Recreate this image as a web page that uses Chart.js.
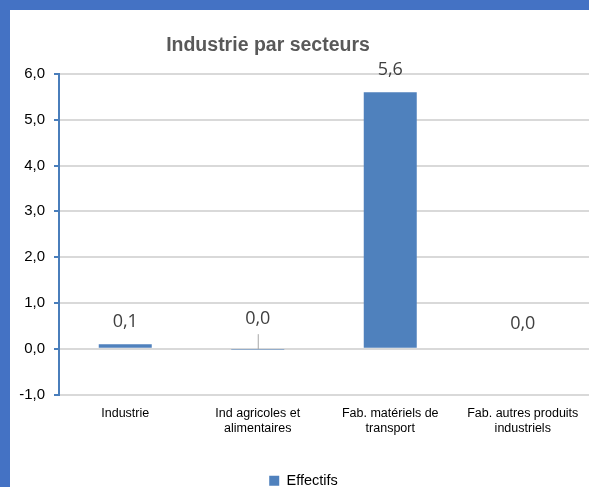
<!DOCTYPE html>
<html lang="fr">
<head>
<meta charset="utf-8">
<title>Industrie par secteurs</title>
<script src="https://cdn.jsdelivr.net/npm/chart.js@4.4.0/dist/chart.umd.min.js"></script>
<style>
    html, body { margin: 0; padding: 0; }
    body { width: 589px; height: 487px; background: #4472c4; position: relative; overflow: hidden; }
    .frame { position: absolute; left: 10px; top: 10px; width: 579px; height: 488px; background: #fff; }
</style>
</head>
<body>
<div class="frame"><canvas id="sectorChart"></canvas></div>
<script>
// Effectifs par secteur de l'industrie
const categories = [
    'Industrie',
    ['Ind agricoles et', 'alimentaires'],
    ['Fab. matériels de', 'transport'],
    ['Fab. autres produits', 'industriels']
];
const effectifs = [0.1, -0.01, 5.6, 0.02];
const yTicks = [-1, 0, 1, 2, 3, 4, 5, 6];

const fmt = v => (Math.round(v * 10) / 10).toFixed(1).replace('.', ',');

// Title drawn by hand so it can sit where we want it
const titlePlugin = {
    id: 'manualTitle',
    afterDraw(chart, args, opts) {
        const ctx = chart.ctx;
        ctx.save();
        ctx.font = 'bold 19.5px "Liberation Sans", Arial, sans-serif';
        ctx.fillStyle = '#595959';
        ctx.textAlign = 'center';
        ctx.textBaseline = 'middle';
        ctx.fillText(opts.text, opts.x, opts.y);
        ctx.restore();
    }
};

// Value labels above each bar, with a leader line when the label was pushed up
const valueLabels = {
    id: 'valueLabels',
    afterDatasetsDraw(chart, args, opts) {
        const ctx = chart.ctx;
        const meta = chart.getDatasetMeta(0);
        const values = chart.data.datasets[0].data;
        ctx.save();
        ctx.font = '18px "Open Sans", sans-serif';
        ctx.fillStyle = '#404040';
        ctx.textAlign = 'center';
        ctx.textBaseline = 'middle';
        meta.data.forEach((bar, i) => {
            const top = Math.min(bar.y, bar.base);
            const off = opts.offsets[i];
            ctx.fillText(fmt(values[i]), bar.x, top - off);
            if (off > 26) {
                ctx.strokeStyle = '#a6a6a6';
                ctx.lineWidth = 1;
                ctx.beginPath();
                ctx.moveTo(bar.x + 0.5, top - off + 15);
                ctx.lineTo(bar.x + 0.5, top);
                ctx.stroke();
            }
        });
        ctx.restore();
    }
};

new Chart(document.getElementById('sectorChart'), {
    type: 'bar',
    data: {
        labels: categories,
        datasets: [{
            label: 'Effectifs',
            data: effectifs,
            backgroundColor: '#4f81bd',
            borderWidth: 0,
            barPercentage: 0.4,
            categoryPercentage: 1.0
        }]
    },
    options: {
        responsive: true,
        maintainAspectRatio: false,
        animation: false,
        layout: { padding: { top: 64, left: 8, right: 0, bottom: 0 } },
        plugins: {
            title: { display: false },
            tooltip: { enabled: false },
            legend: {
                position: 'bottom',
                labels: {
                    boxWidth: 10,
                    boxHeight: 10,
                    padding: 4,
                    color: '#000',
                    font: { family: '"Liberation Sans", Arial, sans-serif', size: 14.5 }
                }
            },
            manualTitle: { text: 'Industrie par secteurs', x: 258, y: 36 },
            valueLabels: { offsets: [22, 30, 22, 24] }
        },
        scales: {
            x: {
                grid: { display: false, drawTicks: false },
                border: { display: false },
                ticks: {
                    color: '#000',
                    padding: 12,
                    maxRotation: 0,
                    font: { family: '"Liberation Sans", Arial, sans-serif', size: 12.5 }
                },
                afterFit(scale) {
                    scale.height = 75;
                    // let the last category label run to the edge
                    scale.paddingLeft = 0;
                    scale.paddingRight = 0;
                }
            },
            y: {
                min: -1,
                max: 6,
                afterBuildTicks(scale) { scale.ticks = yTicks.map(v => ({ value: v })); },
                grid: {
                    color: '#d9d9d9',
                    lineWidth: 2,
                    tickColor: '#4a7ebb',
                    tickLength: 5
                },
                border: { color: '#4a7ebb', width: 2 },
                ticks: {
                    color: '#000',
                    padding: 9,
                    font: { family: '"Liberation Sans", Arial, sans-serif', size: 15 },
                    callback: v => fmt(v)
                },
                afterFit(scale) { scale.width = 41; }
            }
        }
    },
    plugins: [titlePlugin, valueLabels]
});
</script>
</body>
</html>
